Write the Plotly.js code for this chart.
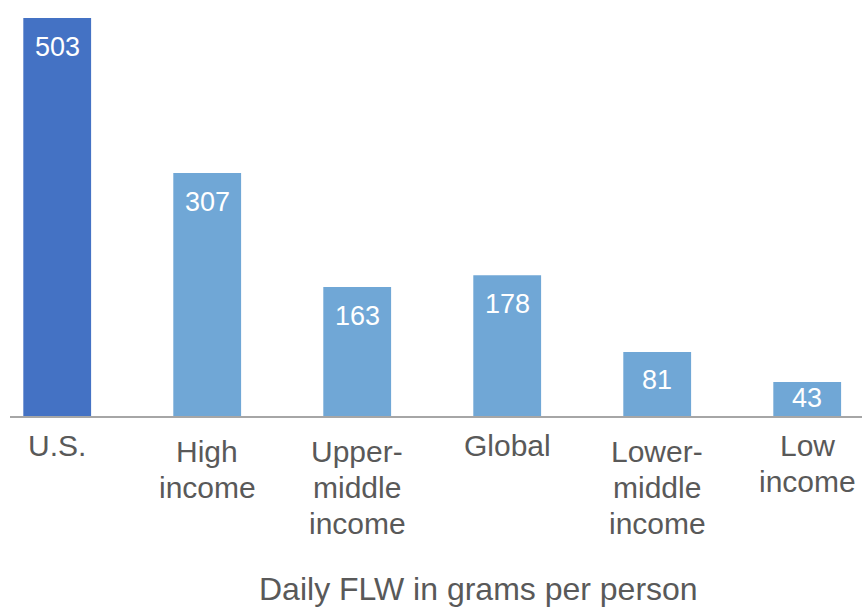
<!DOCTYPE html>
<html>
<head>
<meta charset="utf-8">
<script src="https://cdn.plot.ly/plotly-3.0.1.min.js"></script>
<style>html,body{margin:0;padding:0;background:#fff;}#chart{width:862px;height:607px;}</style>
</head>
<body>
<div id="chart"></div>
<script>
// ---- data ----
const categories = ["U.S.", "High income", "Upper-middle income", "Global", "Lower-middle income", "Low income"];
const labelLines = [["U.S."], ["High", "income"], ["Upper-", "middle", "income"], ["Global"], ["Lower-", "middle", "income"], ["Low", "income"]];
const values = [503, 307, 163, 178, 81, 43];
const axisTitle = "Daily FLW in grams per person";

// ---- styling ----
const FONT = "Liberation Sans, Arial, sans-serif";
const TXT = "#595959";
const barColors = ["#4472C4", "#70A7D6", "#70A7D6", "#70A7D6", "#70A7D6", "#70A7D6"];
const labelDrop = [false, true, true, false, true, false];

const W = 862, H = 607;
const mL = 10, mR = 0, mT = 0;
const plotH = 416.5;
const mB = H - mT - plotH;
const yMax = 525.8;
const pxPerUnit = plotH / yMax;

const annotations = [];
// value labels inside bars
values.forEach((v, i) => {
  const h = v * pxPerUnit;
  const drop = Math.min(28.5, h - 18);
  annotations.push({
    x: categories[i], y: v, xref: "x", yref: "y",
    text: String(v), showarrow: false,
    yanchor: "middle", xanchor: "center", yshift: -drop,
    font: {family: FONT, size: 27, color: "#FFFFFF"}
  });
});
// category labels
labelLines.forEach((lines, i) => {
  const firstCenter = labelDrop[i] ? 452 : 445.5;
  lines.forEach((ln, j) => {
    const cy = firstCenter + j * 36;
    annotations.push({
      x: categories[i], y: 0, xref: "x", yref: "paper",
      text: ln, showarrow: false,
      yanchor: "middle", xanchor: "center", yshift: -(cy - plotH),
      font: {family: FONT, size: 30, color: TXT}
    });
  });
});
// axis title
annotations.push({
  x: (478 - mL) / (W - mL - mR), y: 0, xref: "paper", yref: "paper",
  text: axisTitle, showarrow: false, yanchor: "middle", xanchor: "center",
  yshift: -(589 - plotH),
  font: {family: FONT, size: 32, color: TXT}
});

const trace = {
  type: "bar",
  x: categories,
  y: values,
  marker: {color: barColors, line: {width: 0}},
  hoverinfo: "skip"
};

const layout = {
  width: W, height: H,
  margin: {l: mL, r: mR, t: mT, b: mB, pad: 0},
  paper_bgcolor: "#FFFFFF", plot_bgcolor: "#FFFFFF",
  showlegend: false,
  bargap: 0.548,
  xaxis: {
    type: "category",
    range: [-0.3147, 5.3653],
    showticklabels: false, ticks: "",
    showline: true, linecolor: "#A6A6A6", linewidth: 1.5,
    showgrid: false, zeroline: false, fixedrange: true
  },
  yaxis: {
    range: [0, yMax], visible: false, showgrid: false, zeroline: false, fixedrange: true
  },
  annotations: annotations,
  font: {family: FONT, color: TXT}
};

Plotly.newPlot("chart", [trace], layout, {displayModeBar: false, staticPlot: true});
</script>
</body>
</html>
